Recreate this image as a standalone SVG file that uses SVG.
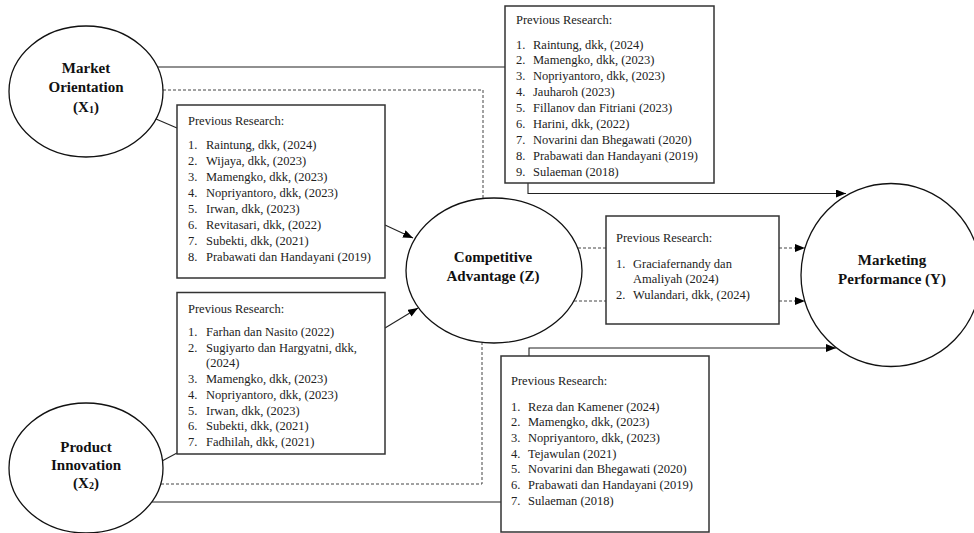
<svg xmlns="http://www.w3.org/2000/svg" width="974" height="533" viewBox="0 0 974 533">
<defs>
<marker id="arr" markerUnits="userSpaceOnUse" markerWidth="10" markerHeight="8" refX="10" refY="4" orient="auto">
<path d="M0,0 L10,4 L0,8 Z" fill="#000"/>
</marker>
<style>
.ell{fill:#fff;stroke:#111;stroke-width:1.3}
.box{fill:#fff;stroke:#333;stroke-width:1.5}
.lbl{font-family:"Liberation Serif","Times New Roman",serif;font-weight:bold;font-size:15px;fill:#111;text-anchor:middle}
.t{font-family:"Liberation Serif","Times New Roman",serif;font-size:12.5px;fill:#222}
.sol{fill:none;stroke:#222;stroke-width:1.1}
.dash{fill:none;stroke:#444;stroke-width:1;stroke-dasharray:3 2}
</style>
</defs>
<rect width="974" height="533" fill="#fff"/>

<g id="connectors">
<line class="sol" x1="157" y1="67" x2="505" y2="67"/>
<path class="dash" d="M163,90 H483 V198"/>
<line class="sol" x1="156" y1="119" x2="177" y2="128"/>
<line class="sol" x1="385" y1="225" x2="413" y2="238" marker-end="url(#arr)"/>
<line class="sol" x1="162" y1="461" x2="177" y2="453"/>
<line class="sol" x1="385" y1="328" x2="418" y2="308" marker-end="url(#arr)"/>
<path class="dash" d="M161,484 H482 V343"/>
<line class="sol" x1="152" y1="502" x2="501" y2="502"/>
<path class="sol" d="M528,183 V193.5 H846" marker-end="url(#arr)"/>
<path class="sol" d="M529,356 V348 H836" marker-end="url(#arr)"/>
<line class="dash" x1="578" y1="248" x2="606" y2="248"/>
<line class="dash" x1="779" y1="248" x2="805" y2="248" marker-end="url(#arr)"/>
<line class="dash" x1="574" y1="301" x2="606" y2="301"/>
<line class="dash" x1="779" y1="301" x2="805" y2="301" marker-end="url(#arr)"/>
</g>

<g id="market-orientation">
<ellipse class="ell" cx="86" cy="91.5" rx="77" ry="65.5"/>
<text class="lbl" x="86" y="73">Market</text>
<text class="lbl" x="86" y="92">Orientation</text>
<text class="lbl" x="86" y="111.5">(X<tspan font-size="10" dy="1">1</tspan><tspan dy="-1">)</tspan></text>
</g>

<g id="product-innovation">
<ellipse class="ell" cx="86" cy="468" rx="77" ry="65"/>
<text class="lbl" x="86" y="452">Product</text>
<text class="lbl" x="86" y="470">Innovation</text>
<text class="lbl" x="86" y="487.5">(X<tspan font-size="10" dy="1">2</tspan><tspan dy="-1">)</tspan></text>
</g>

<g id="competitive-advantage">
<ellipse class="ell" cx="494" cy="270.5" rx="88" ry="72.5"/>
<text class="lbl" x="493" y="262">Competitive</text>
<text class="lbl" x="493" y="281">Advantage (Z)</text>
</g>

<g id="marketing-performance">
<ellipse class="ell" cx="891" cy="275" rx="90" ry="91.5"/>
<text class="lbl" x="892" y="265">Marketing</text>
<text class="lbl" x="892" y="284">Performance (Y)</text>
</g>

<g id="research-x1-z">
<rect class="box" x="177" y="105" width="208" height="173"/>
<text class="t" x="188" y="124.5">Previous Research:</text>
<text class="t" x="188" y="149">1.</text><text class="t" x="206" y="149">Raintung, dkk, (2024)</text>
<text class="t" x="188" y="165">2.</text><text class="t" x="206" y="165">Wijaya, dkk, (2023)</text>
<text class="t" x="188" y="181">3.</text><text class="t" x="206" y="181">Mamengko, dkk, (2023)</text>
<text class="t" x="188" y="197">4.</text><text class="t" x="206" y="197">Nopriyantoro, dkk, (2023)</text>
<text class="t" x="188" y="213">5.</text><text class="t" x="206" y="213">Irwan, dkk, (2023)</text>
<text class="t" x="188" y="229">6.</text><text class="t" x="206" y="229">Revitasari, dkk, (2022)</text>
<text class="t" x="188" y="245">7.</text><text class="t" x="206" y="245">Subekti, dkk, (2021)</text>
<text class="t" x="188" y="261">8.</text><text class="t" x="206" y="261">Prabawati dan Handayani (2019)</text>
</g>

<g id="research-x2-z">
<rect class="box" x="177" y="292.5" width="208" height="161.5"/>
<text class="t" x="188" y="312.5">Previous Research:</text>
<text class="t" x="188" y="336">1.</text><text class="t" x="206" y="336">Farhan dan Nasito (2022)</text>
<text class="t" x="188" y="351.7">2.</text><text class="t" x="206" y="351.7">Sugiyarto dan Hargyatni, dkk,</text>
<text class="t" x="206" y="367.4">(2024)</text>
<text class="t" x="188" y="383.1">3.</text><text class="t" x="206" y="383.1">Mamengko, dkk, (2023)</text>
<text class="t" x="188" y="398.8">4.</text><text class="t" x="206" y="398.8">Nopriyantoro, dkk, (2023)</text>
<text class="t" x="188" y="414.5">5.</text><text class="t" x="206" y="414.5">Irwan, dkk, (2023)</text>
<text class="t" x="188" y="430.2">6.</text><text class="t" x="206" y="430.2">Subekti, dkk, (2021)</text>
<text class="t" x="188" y="445.9">7.</text><text class="t" x="206" y="445.9">Fadhilah, dkk, (2021)</text>
</g>

<g id="research-x1-y">
<rect class="box" x="505" y="6" width="209" height="177"/>
<text class="t" x="516" y="23.5">Previous Research:</text>
<text class="t" x="516" y="48.5">1.</text><text class="t" x="533" y="48.5">Raintung, dkk, (2024)</text>
<text class="t" x="516" y="64.4">2.</text><text class="t" x="533" y="64.4">Mamengko, dkk, (2023)</text>
<text class="t" x="516" y="80.3">3.</text><text class="t" x="533" y="80.3">Nopriyantoro, dkk, (2023)</text>
<text class="t" x="516" y="96.2">4.</text><text class="t" x="533" y="96.2">Jauharoh (2023)</text>
<text class="t" x="516" y="112.1">5.</text><text class="t" x="533" y="112.1">Fillanov dan Fitriani (2023)</text>
<text class="t" x="516" y="128">6.</text><text class="t" x="533" y="128">Harini, dkk, (2022)</text>
<text class="t" x="516" y="143.9">7.</text><text class="t" x="533" y="143.9">Novarini dan Bhegawati (2020)</text>
<text class="t" x="516" y="159.8">8.</text><text class="t" x="533" y="159.8">Prabawati dan Handayani (2019)</text>
<text class="t" x="516" y="175.7">9.</text><text class="t" x="533" y="175.7">Sulaeman (2018)</text>
</g>

<g id="research-z-y">
<rect class="box" x="606" y="216" width="173" height="108"/>
<text class="t" x="616" y="241.5">Previous Research:</text>
<text class="t" x="616" y="267.5">1.</text><text class="t" x="633" y="267.5">Graciafernandy dan</text>
<text class="t" x="633" y="282.8">Amaliyah (2024)</text>
<text class="t" x="616" y="298.5">2.</text><text class="t" x="633" y="298.5">Wulandari, dkk, (2024)</text>
</g>

<g id="research-x2-y">
<rect class="box" x="501" y="356" width="208" height="176"/>
<text class="t" x="511" y="384.5">Previous Research:</text>
<text class="t" x="511" y="410.5">1.</text><text class="t" x="528" y="410.5">Reza dan Kamener (2024)</text>
<text class="t" x="511" y="426.2">2.</text><text class="t" x="528" y="426.2">Mamengko, dkk, (2023)</text>
<text class="t" x="511" y="441.9">3.</text><text class="t" x="528" y="441.9">Nopriyantoro, dkk, (2023)</text>
<text class="t" x="511" y="457.6">4.</text><text class="t" x="528" y="457.6">Tejawulan (2021)</text>
<text class="t" x="511" y="473.3">5.</text><text class="t" x="528" y="473.3">Novarini dan Bhegawati (2020)</text>
<text class="t" x="511" y="489">6.</text><text class="t" x="528" y="489">Prabawati dan Handayani (2019)</text>
<text class="t" x="511" y="504.7">7.</text><text class="t" x="528" y="504.7">Sulaeman (2018)</text>
</g>
</svg>
